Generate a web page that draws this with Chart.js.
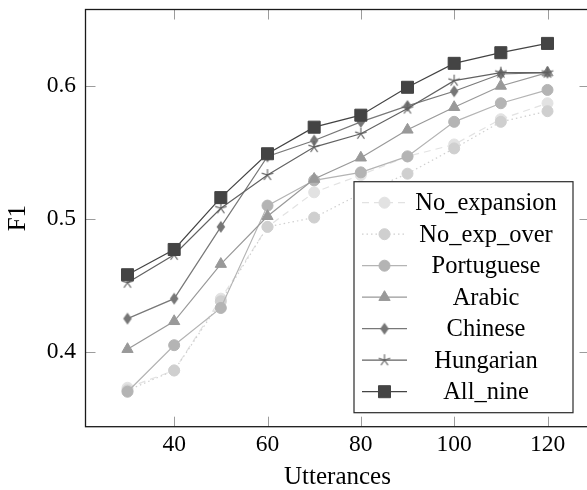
<!DOCTYPE html>
<html>
<head>
<meta charset="utf-8">
<script src="https://cdn.jsdelivr.net/npm/chart.js@4.4.1/dist/chart.umd.min.js"></script>
<style>
  html, body { margin: 0; padding: 0; background: #fff; overflow: hidden; }
  #wrap { width: 600px; height: 490px; }
</style>
</head>
<body>
<div id="wrap"><canvas id="chart" width="600" height="490"></canvas></div>
<script>
// values
const utterances = [30, 40, 50, 60, 70, 80, 90, 100, 110, 120];
const noExpansion = [0.373, 0.386, 0.440, 0.494, 0.520, 0.533, 0.547, 0.556, 0.575, 0.587];
const noExpOver   = [0.371, 0.386, 0.438, 0.494, 0.501, 0.519, 0.534, 0.553, 0.573, 0.581];
const portuguese  = [0.370, 0.405, 0.433, 0.510, 0.529, 0.535, 0.547, 0.573, 0.587, 0.597];
const arabic      = [0.402, 0.423, 0.466, 0.502, 0.530, 0.546, 0.567, 0.584, 0.600, 0.610];
const chinese     = [0.425, 0.440, 0.494, 0.547, 0.559, 0.573, 0.585, 0.596, 0.609, 0.610];
const hungarian   = [0.452, 0.473, 0.508, 0.533, 0.554, 0.564, 0.583, 0.604, 0.610, 0.610];
const allNine     = [0.458, 0.477, 0.516, 0.549, 0.569, 0.578, 0.599, 0.617, 0.625, 0.632];

const xTicks = [40, 60, 80, 100, 120];
const yTicks = [0.4, 0.5, 0.6];

const serif = '"Liberation Serif", "Times New Roman", serif';

// small canvases for the pgfplots-like diamond and star marks
function markCanvas(size, draw) {
    const c = document.createElement('canvas');
    c.width = size; c.height = size;
    draw(c.getContext('2d'), size / 2);
    return c;
}
const diamondMark = markCanvas(14, (g, m) => {
    g.fillStyle = '#767676';
    g.beginPath();
    g.moveTo(m, m - 6); g.lineTo(m + 4.3, m); g.lineTo(m, m + 6); g.lineTo(m - 4.3, m);
    g.closePath(); g.fill();
});
const starMark = markCanvas(14, (g, m) => {
    g.strokeStyle = '#5e5e5e';
    g.lineWidth = 1.1;
    g.beginPath();
    for (let i = 0; i < 5; i++) {
        const a = -Math.PI / 2 + i * 2 * Math.PI / 5;
        g.moveTo(m, m);
        g.lineTo(m + 6 * Math.cos(a), m + 6 * Math.sin(a));
    }
    g.stroke();
});

function series(label, values, color, extra) {
    return Object.assign({
        label,
        data: utterances.map((x, i) => ({ x, y: values[i] })),
        borderColor: color,
        backgroundColor: color,
        pointBackgroundColor: color,
        pointBorderColor: color,
        borderWidth: 1.2,
        pointBorderWidth: 1,
        pointRadius: 5.5,
        tension: 0
    }, extra);
}

const datasets = [
    series('No_expansion', noExpansion, '#e2e2e2', { borderDash: [7, 5], pointStyle: 'circle' }),
    series('No_exp_over', noExpOver, '#cfcfcf', { borderDash: [1.5, 3], pointStyle: 'circle' }),
    series('Portuguese', portuguese, '#b4b4b4', { pointStyle: 'circle' }),
    series('Arabic', arabic, '#999999', { pointStyle: 'triangle', pointRadius: 6.5 }),
    series('Chinese', chinese, '#787878', { pointStyle: diamondMark }),
    series('Hungarian', hungarian, '#626262', { pointStyle: starMark }),
    series('All_nine', allNine, '#444444', { pointStyle: 'rect', pointRadius: 8.5 })
];
// later series sit on top, like in the original
datasets.forEach((d, i) => { d.order = datasets.length - i; });

const frameTicks = {
    id: 'frameTicks',
    beforeDatasetsDraw(chart) {
        const { ctx, chartArea: a, scales: { x, y } } = chart;
        ctx.save();
        ctx.strokeStyle = '#9c9c9c';
        ctx.lineWidth = 1;
        ctx.beginPath();
        x.ticks.forEach(t => {
            const px = Math.round(x.getPixelForValue(t.value)) + 0.5;
            ctx.moveTo(px, a.bottom); ctx.lineTo(px, a.bottom - 10);
            ctx.moveTo(px, a.top); ctx.lineTo(px, a.top + 10);
        });
        y.ticks.forEach(t => {
            const py = Math.round(y.getPixelForValue(t.value)) + 0.5;
            ctx.moveTo(a.left, py); ctx.lineTo(a.left + 10, py);
            ctx.moveTo(a.right, py); ctx.lineTo(a.right - 10, py);
        });
        ctx.stroke();
        ctx.restore();
    },
    afterDatasetsDraw(chart) {
        const { ctx, chartArea: a } = chart;
        ctx.save();
        ctx.strokeStyle = '#1a1a1a';
        ctx.lineWidth = 1.3;
        ctx.strokeRect(a.left, a.top, a.right - a.left, a.bottom - a.top);
        ctx.restore();
    }
};

const boxLegend = {
    id: 'boxLegend',
    afterDraw(chart) {
        const { ctx, chartArea: a } = chart;
        const w = 219, h = 231, rowH = 31.5;
        const left = a.right - 16.5 - w;
        const top = a.bottom - 14 - h;
        ctx.save();
        ctx.fillStyle = '#fff';
        ctx.fillRect(left, top, w, h);
        ctx.strokeStyle = '#2a2a2a';
        ctx.lineWidth = 1.2;
        ctx.strokeRect(left, top, w, h);
        chart.data.datasets.forEach((d, i) => {
            const cy = top + 21 + i * rowH;
            ctx.strokeStyle = d.borderColor;
            ctx.lineWidth = d.borderWidth;
            ctx.setLineDash(d.borderDash || []);
            ctx.beginPath();
            ctx.moveTo(left + 8, cy);
            ctx.lineTo(left + 53, cy);
            ctx.stroke();
            ctx.setLineDash([]);
            ctx.fillStyle = d.pointBackgroundColor;
            ctx.strokeStyle = d.pointBorderColor;
            ctx.lineWidth = d.pointBorderWidth;
            if (Chart.helpers && Chart.helpers.drawPoint) {
                Chart.helpers.drawPoint(ctx, {
                    pointStyle: d.pointStyle, radius: d.pointRadius,
                    borderWidth: d.pointBorderWidth, rotation: 0
                }, left + 30.5, cy);
            }
            ctx.fillStyle = '#000';
            ctx.font = '24.5px ' + serif;
            ctx.textAlign = 'center';
            ctx.textBaseline = 'middle';
            ctx.fillText(d.label, left + 132, cy + 1);
        });
        ctx.restore();
    }
};

Chart.defaults.font.family = serif;
Chart.defaults.color = '#000';

new Chart(document.getElementById('chart'), {
    type: 'line',
    data: { datasets },
    options: {
        responsive: false,
        animation: false,
        events: [],
        devicePixelRatio: 1,
        layout: { padding: { left: 0, top: 8, right: 10.5, bottom: 0 } },
        plugins: { legend: { display: false }, tooltip: { enabled: false } },
        scales: {
            x: {
                type: 'linear',
                min: 21,
                max: 129,
                grid: { display: false, drawTicks: false },
                border: { display: false },
                afterBuildTicks: s => { s.ticks = xTicks.map(v => ({ value: v })); },
                afterFit: s => { s.height = 63.3; s.paddingLeft = 0; s.paddingRight = 0; },
                ticks: { padding: 4, maxRotation: 0, font: { size: 23.5, family: serif } },
                title: {
                    display: true, text: 'Utterances',
                    font: { size: 25, family: serif, lineHeight: 1 },
                    padding: { top: 0, bottom: 0 }
                }
            },
            y: {
                min: 0.3437,
                max: 0.6575,
                grid: { display: false, drawTicks: false },
                border: { display: false },
                afterBuildTicks: s => { s.ticks = yTicks.map(v => ({ value: v })); },
                afterFit: s => { s.width = 85.5; s.paddingTop = 0; s.paddingBottom = 0; },
                ticks: { padding: 9.5, font: { size: 23.5, family: serif }, callback: v => v.toFixed(1) },
                title: {
                    display: true, text: 'F1',
                    font: { size: 25, family: serif, lineHeight: 1 },
                    padding: { top: 5.5, bottom: 0 }
                }
            }
        }
    },
    plugins: [frameTicks, boxLegend]
});
</script>
</body>
</html>
